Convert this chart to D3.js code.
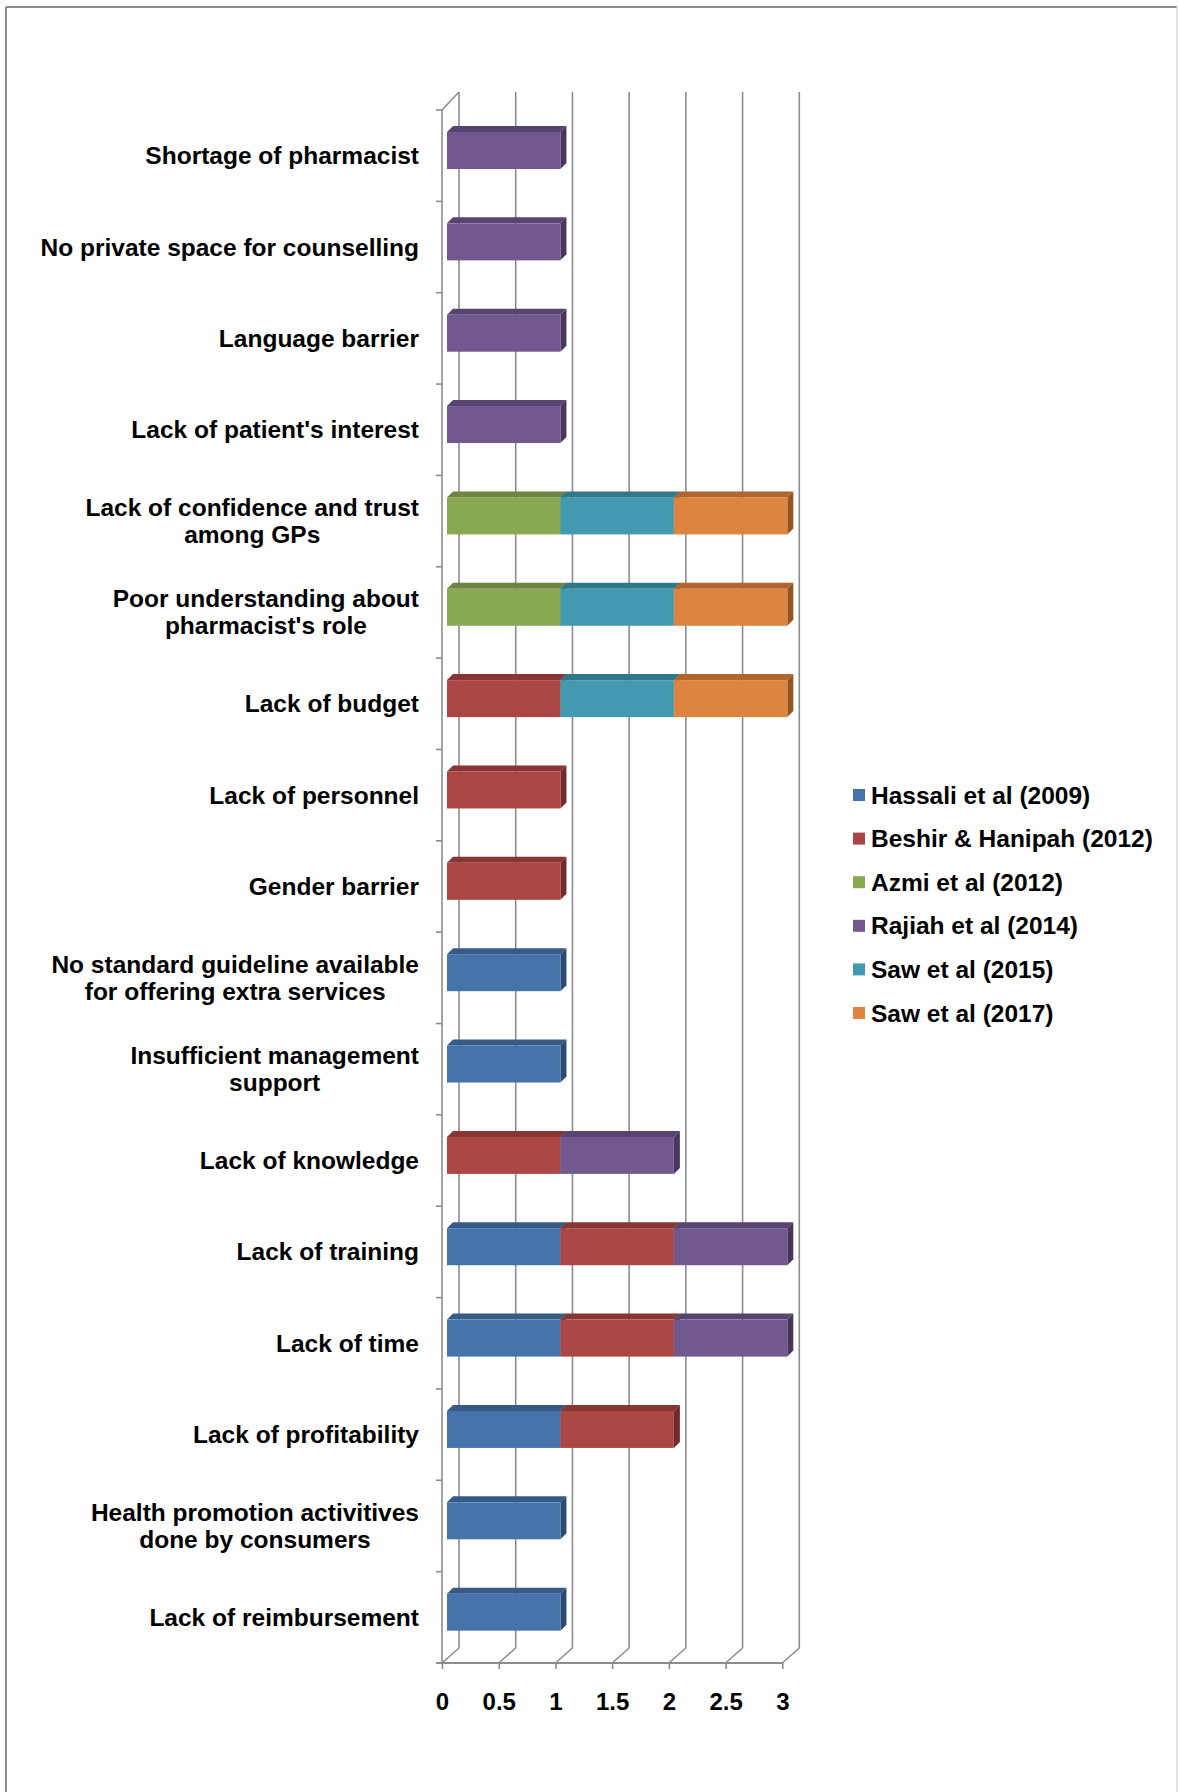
<!DOCTYPE html>
<html>
<head>
<meta charset="utf-8">
<script src="https://cdn.jsdelivr.net/npm/d3@7"></script>
<style>
  body { margin: 0; background: #fff; }
  text { font-family: "Liberation Sans", Arial, sans-serif; font-weight: bold; fill: #000; }
</style>
</head>
<body>
<div id="chart"></div>
<script>
// categories, listed top to bottom as they appear
const categories = [
    "Shortage of pharmacist",
    "No private space for counselling",
    "Language barrier",
    "Lack of patient's interest",
    "Lack of confidence and trust\namong GPs",
    "Poor understanding about\npharmacist's role",
    "Lack of budget",
    "Lack of personnel",
    "Gender barrier",
    "No standard guideline available\nfor offering extra services",
    "Insufficient management\nsupport",
    "Lack of knowledge",
    "Lack of training",
    "Lack of time",
    "Lack of profitability",
    "Health promotion activitives\ndone by consumers",
    "Lack of reimbursement"
];

// one array per study, same order as categories
const hassali2009 = [0, 0, 0, 0, 0, 0, 0, 0, 0, 1, 1, 0, 1, 1, 1, 1, 1];
const beshir2012  = [0, 0, 0, 0, 0, 0, 1, 1, 1, 0, 0, 1, 1, 1, 1, 0, 0];
const azmi2012    = [0, 0, 0, 0, 1, 1, 0, 0, 0, 0, 0, 0, 0, 0, 0, 0, 0];
const rajiah2014  = [1, 1, 1, 1, 0, 0, 0, 0, 0, 0, 0, 1, 1, 1, 0, 0, 0];
const saw2015     = [0, 0, 0, 0, 1, 1, 1, 0, 0, 0, 0, 0, 0, 0, 0, 0, 0];
const saw2017     = [0, 0, 0, 0, 1, 1, 1, 0, 0, 0, 0, 0, 0, 0, 0, 0, 0];

const seriesNames = ["Hassali et al (2009)", "Beshir & Hanipah (2012)", "Azmi et al (2012)",
    "Rajiah et al (2014)", "Saw et al (2015)", "Saw et al (2017)"];
const seriesValues = [hassali2009, beshir2012, azmi2012, rajiah2014, saw2015, saw2017];

const xTicks = [0, 0.5, 1, 1.5, 2, 2.5, 3];

// face colours: front, top, side
const colors = [
    { front: "#4674aa", top: "#365b88", side: "#2c4b72" },
    { front: "#aa4644", top: "#883634", side: "#712b2a" },
    { front: "#8aa752", top: "#6d8540", side: "#5a6e34" },
    { front: "#71588f", top: "#574470", side: "#47375c" },
    { front: "#4299b0", top: "#31778a", side: "#286373" },
    { front: "#dd843e", top: "#b0662d", side: "#945424" }
];

const width = 1178;
const height = 1792;

// build table for d3.stack
const table = categories.map((c, i) => {
    let row = { cat: c };
    seriesNames.forEach((s, j) => row[s] = seriesValues[j][i]);
    return row;
});
const stacked = d3.stack().keys(seriesNames)(table);

const svg = d3.select("#chart")
.append("svg")
.attr("width", width)
.attr("height", height);

svg.append("rect").attr("width", width).attr("height", height).attr("fill", "#fff");

// outer frame
svg.append("line").attr("x1", 6).attr("y1", 7).attr("x2", 1177).attr("y2", 7)
.attr("stroke", "#8a8a8a").attr("stroke-width", 2);
svg.append("line").attr("x1", 6).attr("y1", 7).attr("x2", 6).attr("y2", height)
.attr("stroke", "#8a8a8a").attr("stroke-width", 2);
svg.append("line").attr("x1", 1177).attr("y1", 7).attr("x2", 1177).attr("y2", height)
.attr("stroke", "#d9d9d9").attr("stroke-width", 1.5);

// scales (front plane)
const x = d3.scaleLinear().domain([0, 3]).range([442, 782.3]);
const y = d3.scaleBand().domain(categories).range([110, 1663]);

// 3d offsets
const wallDx = 17, wallDy = -15;
const barShift = 5, barDepth = 6;
const gridColor = "#8c8c8c";

const plot = svg.append("g");

// back wall gridlines and floor diagonals
xTicks.forEach(t => {
    plot.append("line")
    .attr("x1", x(t) + wallDx).attr("x2", x(t) + wallDx)
    .attr("y1", 92).attr("y2", 1663 + wallDy)
    .attr("stroke", gridColor).attr("stroke-width", 1.6);
    plot.append("line")
    .attr("x1", x(t) + wallDx).attr("y1", 1663 + wallDy)
    .attr("x2", x(t)).attr("y2", 1663)
    .attr("stroke", gridColor).attr("stroke-width", 1.6);
});

// left front axis + top diagonal
plot.append("line").attr("x1", x(0)).attr("x2", x(0)).attr("y1", 110).attr("y2", 1663)
.attr("stroke", gridColor).attr("stroke-width", 1.6);
plot.append("line").attr("x1", x(0)).attr("y1", 110).attr("x2", x(0) + wallDx).attr("y2", 92)
.attr("stroke", gridColor).attr("stroke-width", 1.6);

// category ticks on band boundaries
const bounds = categories.map(c => y(c)).concat([y.range()[1]]);
plot.selectAll(".ctick")
.data(bounds)
.enter()
.append("line")
.attr("x1", x(0) - 6).attr("x2", x(0))
.attr("y1", d => d).attr("y2", d => d)
.attr("stroke", gridColor).attr("stroke-width", 1.6);

// bottom axis
const xAxis = d3.axisBottom(x)
.tickValues(xTicks)
.tickSize(6)
.tickPadding(24)
.tickFormat(d3.format("~g"));

const axisG = svg.append("g")
.attr("transform", "translate(0,1663)")
.call(xAxis);
axisG.select(".domain").attr("stroke", gridColor).attr("stroke-width", 2.2)
.attr("d", `M${x(0) - 6},0H${x(3)}`);
axisG.selectAll(".tick line").attr("stroke", gridColor).attr("stroke-width", 1.6);
axisG.selectAll(".tick text")
.style("font-family", "'Liberation Sans', Arial, sans-serif")
.style("font-weight", "bold")
.style("font-size", "24px")
.attr("fill", "#000");

// bars
const barTop = 22, barH = 37;
stacked.forEach((layer, si) => {
    const c = colors[si];
    layer.forEach((d, ci) => {
        if (d[1] - d[0] <= 0) return;
        const cat = categories[ci];
        const x0 = x(d[0]) + barShift;
        const x1 = x(d[1]) + barShift;
        const y0 = y(cat) + barTop;
        const g = plot.append("g");
        // top face
        g.append("path")
        .attr("d", `M${x0},${y0}L${x0 + barDepth},${y0 - barDepth}L${x1 + barDepth},${y0 - barDepth}L${x1},${y0}Z`)
        .attr("fill", c.top);
        // side face
        g.append("path")
        .attr("d", `M${x1},${y0}L${x1 + barDepth},${y0 - barDepth}L${x1 + barDepth},${y0 + barH - barDepth}L${x1},${y0 + barH}Z`)
        .attr("fill", c.side);
        // front face
        g.append("rect")
        .attr("x", x0).attr("y", y0)
        .attr("width", x1 - x0).attr("height", barH)
        .attr("fill", c.front);
    });
});

// category labels, block right aligned, lines centred
const labelRight = 419;
const lineH = 27;
categories.forEach(cat => {
    const lines = cat.split("\n");
    const cy = y(cat) + y.bandwidth() / 2;
    const t = svg.append("text")
    .attr("font-size", 24.5)
    .attr("text-anchor", "middle");
    const spans = lines.map((l, i) => t.append("tspan")
        .attr("y", cy + (i - (lines.length - 1) / 2) * lineH + 8.5)
        .text(l));
    const maxW = d3.max(spans, s => s.node().getComputedTextLength());
    spans.forEach(s => s.attr("x", labelRight - maxW / 2));
});

// legend
const legend = svg.append("g").attr("transform", "translate(853,795)");
seriesNames.forEach((s, i) => {
    const row = legend.append("g").attr("transform", `translate(0,${i * 43.6})`);
    row.append("rect").attr("x", 0).attr("y", -6).attr("width", 12).attr("height", 12)
    .attr("fill", colors[i].front);
    row.append("text").attr("x", 18).attr("y", 8.5).attr("font-size", 24.5).text(s);
});
</script>
</body>
</html>
